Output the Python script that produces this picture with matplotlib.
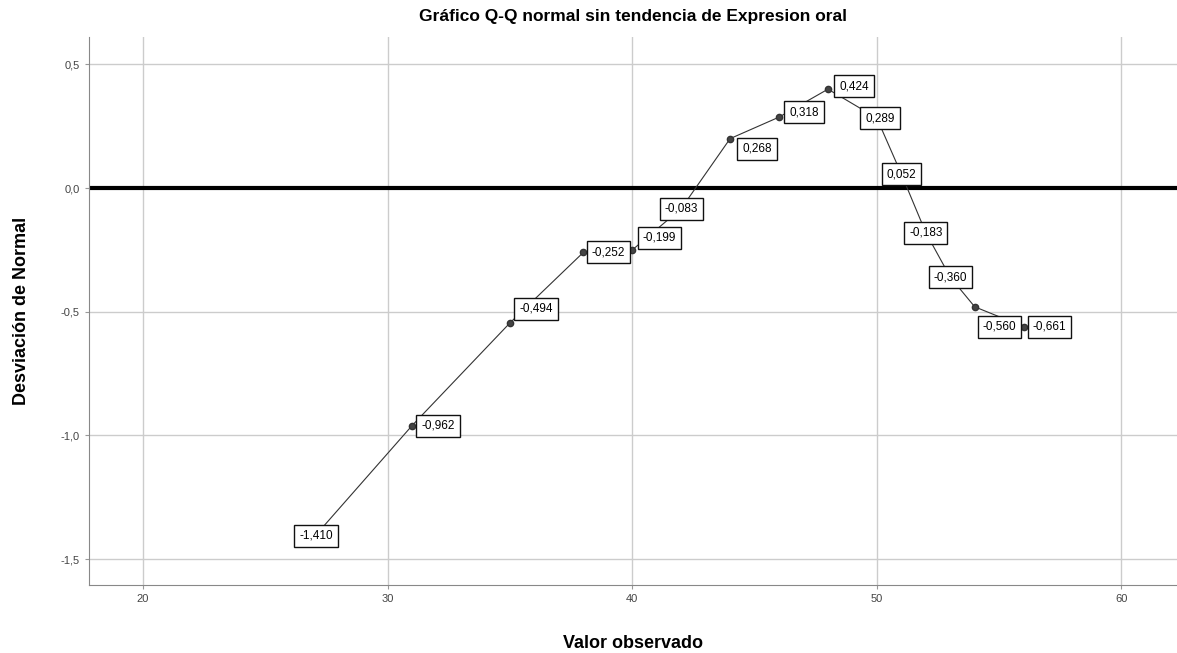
import numpy as np
import matplotlib.pyplot as plt

plt.rcParams['font.family'] = ['Liberation Sans', 'DejaVu Sans']

valor_obs = [27, 31, 35, 38, 40, 42, 44, 46, 48, 50, 51, 52, 53, 54, 56]
desviacion = [-1.41, -0.96, -0.545, -0.26, -0.25, -0.083, 0.20, 0.287, 0.40,
              0.283, 0.057, -0.18, -0.36, -0.48, -0.56]
etiquetas = ["-1,410", "-0,962", "-0,494", "-0,252", "-0,199", "-0,083", "0,268",
             "0,318", "0,424", "0,289", "0,052", "-0,183", "-0,360", "-0,560", "-0,661"]

x_ticks = [20, 30, 40, 50, 60]
y_ticks = [0.5, 0.0, -0.5, -1.0, -1.5]
y_tick_labels = ["0,5", "0,0", "-0,5", "-1,0", "-1,5"]

# desplazamiento de cada etiqueta en pixeles (x, y)
offsets = [(2, 1), (26, 0), (26, 14), (25, 0), (27, 12), (0, 0), (27, -10),
           (25, 5), (26, 3), (3, 0), (0, 0), (0, 0), (0, 0), (25, -20), (26, 0)]

fig = plt.figure(figsize=(11.77, 6.53), dpi=100)
ax = fig.add_axes([0.0756, 0.104, 0.924, 0.839])

ax.set_xlim(17.79, 62.25)
ax.set_ylim(-1.605, 0.61)

ax.set_xticks(x_ticks)
ax.set_yticks(y_ticks)
ax.set_yticklabels(y_tick_labels)
ax.tick_params(labelsize=8, colors='#444444', length=3, color='#999999')
ax.grid(True, color='#cccccc', linewidth=1)
ax.set_axisbelow(True)

for s in ['top', 'right']:
    ax.spines[s].set_visible(False)
for s in ['left', 'bottom']:
    ax.spines[s].set_color('#888888')

ax.axhline(0, color='black', linewidth=3, zorder=2)

ax.plot(valor_obs, desviacion, color='#333333', linewidth=0.8,
        marker='o', markersize=4.5, markerfacecolor='#444444',
        markeredgecolor='#333333', zorder=3)

for x, y, lab, (dx, dy) in zip(valor_obs, desviacion, etiquetas, offsets):
    ax.annotate(lab, (x, y), xytext=(dx, dy), textcoords='offset pixels',
                ha='center', va='center', fontsize=8.5, zorder=4,
                bbox=dict(boxstyle='square,pad=0.42', fc='white', ec='#111111', lw=1))

ax.set_title("Gráfico Q-Q normal sin tendencia de Expresion oral",
             fontsize=12.5, fontweight='bold', pad=12)
ax.set_xlabel("Valor observado", fontsize=13, fontweight='bold', labelpad=22)
ax.set_ylabel("Desviación de Normal", fontsize=13, fontweight='bold', labelpad=22)

plt.savefig("out.png", dpi=100)
